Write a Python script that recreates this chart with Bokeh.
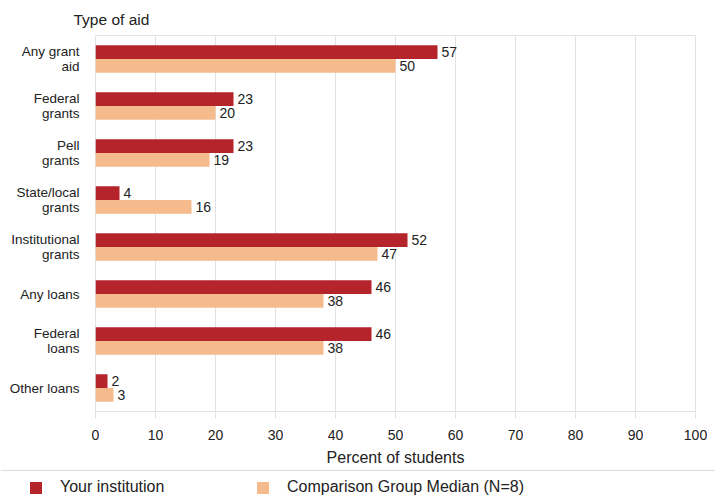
from bokeh.plotting import figure
from bokeh.models import (FactorRange, Range1d, ColumnDataSource, Legend, LegendItem,
                          Span)
from bokeh.layouts import column, row
from bokeh.transform import dodge
from bokeh.core.properties import value
from bokeh.embed import file_html
from bokeh.resources import INLINE

# ---- data ----
categories = ["Any grant\naid", "Federal\ngrants", "Pell\ngrants", "State/local\ngrants",
              "Institutional\ngrants", "Any loans", "Federal\nloans", "Other loans"]
your_institution = [57, 23, 23, 4, 52, 46, 46, 2]
comparison_median = [50, 20, 19, 16, 47, 38, 38, 3]
x_ticks = [0, 10, 20, 30, 40, 50, 60, 70, 80, 90, 100]
series_names = ["Your institution", "Comparison Group Median (N=8)"]

DARK = "#b5232b"
LIGHT = "#f6bb8c"
GRID = "#e2e2e2"
FONT = "Liberation Sans"
TXT = "#222222"

src = ColumnDataSource(dict(
    cat=categories,
    yours=your_institution,
    comp=comparison_median,
    yours_lbl=[str(v) for v in your_institution],
    comp_lbl=[str(v) for v in comparison_median],
))

p = figure(width=715, height=468,
           y_range=FactorRange(factors=categories[::-1], range_padding=0),
           x_range=Range1d(0, 100),
           output_backend="svg", toolbar_location=None,
           min_border_left=95, min_border_right=20, min_border_top=35, min_border_bottom=54)

p.hbar(y=dodge("cat", 0.145, range=p.y_range), right="yours", height=0.29,
       fill_color=DARK, line_color=None, source=src)
p.hbar(y=dodge("cat", -0.145, range=p.y_range), right="comp", height=0.29,
       fill_color=LIGHT, line_color=None, source=src)

p.text(x="yours", y=dodge("cat", 0.145, range=p.y_range), text="yours_lbl", source=src,
       x_offset=4, text_baseline="middle", text_align="left",
       text_font=value(FONT), text_font_size="14px", text_color=TXT)
p.text(x="comp", y=dodge("cat", -0.145, range=p.y_range), text="comp_lbl", source=src,
       x_offset=4, text_baseline="middle", text_align="left",
       text_font=value(FONT), text_font_size="14px", text_color=TXT)

# title
p.title.text = "Type of aid"
p.title.align = "left"
p.title.offset = -22
p.title.text_font = FONT
p.title.text_font_size = "15.5px"
p.title.text_font_style = "normal"
p.title.text_color = TXT
p.title.standoff = 16

# axes
p.xaxis.ticker = x_ticks
p.xaxis.axis_line_color = GRID
p.xaxis.major_tick_line_color = GRID
p.xaxis.major_tick_out = 7
p.xaxis.major_tick_in = 0
p.xaxis.minor_tick_line_color = None
p.xaxis.major_label_standoff = 11
p.xaxis.major_label_text_font = FONT
p.xaxis.major_label_text_font_size = "14px"
p.xaxis.major_label_text_color = TXT
p.xaxis.axis_label = "Percent of students"
p.xaxis.axis_label_text_font = FONT
p.xaxis.axis_label_text_font_size = "16px"
p.xaxis.axis_label_text_font_style = "normal"
p.xaxis.axis_label_text_color = TXT
p.xaxis.axis_label_standoff = 6

p.yaxis.axis_line_color = None
p.yaxis.major_tick_line_color = None
p.yaxis.minor_tick_line_color = None
p.yaxis.major_label_standoff = 10
p.yaxis.major_label_text_font = FONT
p.yaxis.major_label_text_font_size = "13.5px"
p.yaxis.major_label_text_line_height = 0.95
p.yaxis.major_label_text_color = TXT

p.ygrid.grid_line_color = None
p.xgrid.ticker = x_ticks
p.xgrid.grid_line_color = GRID
p.outline_line_color = GRID

# ---- legend strip ----
p2 = figure(width=715, height=28, x_range=Range1d(0, 715), y_range=Range1d(0, 28),
            x_axis_location=None, y_axis_location=None,
            output_backend="svg", toolbar_location=None, min_border=0)
p2.grid.grid_line_color = None
p2.outline_line_color = None
p2.add_layout(Span(location=26, dimension="width", line_color="#dcdcdc", line_width=1))

offscreen = ColumnDataSource(dict(y=[-100], right=[0]))
r1 = p2.hbar(y="y", right="right", height=1, fill_color=DARK, line_color=None, source=offscreen)
r2 = p2.hbar(y="y", right="right", height=1, fill_color=LIGHT, line_color=None, source=offscreen)

for r, name, xloc in [(r1, series_names[0], 28), (r2, series_names[1], 255)]:
    leg = Legend(items=[LegendItem(label=name, renderers=[r])], location=(xloc, 0),
                 orientation="horizontal", padding=0, margin=0,
                 border_line_color=None, background_fill_alpha=0,
                 glyph_width=15, glyph_height=15, label_standoff=17,
                 label_text_font=FONT, label_text_font_size="16px", label_text_color=TXT)
    p2.add_layout(leg)

layout = column(p, row(p2), spacing=0)
open("out.html", "w").write(file_html(layout, INLINE))
